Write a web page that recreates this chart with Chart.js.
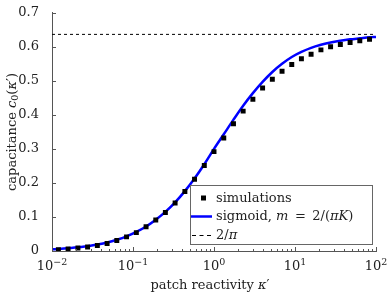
<!DOCTYPE html>
<html>
<head>
<meta charset="utf-8">
<script src="https://cdn.jsdelivr.net/npm/chart.js@4.4.0/dist/chart.umd.min.js"></script>
<style>
  html, body { margin: 0; padding: 0; background: #fff; }
  #wrap { width: 391px; height: 296px; }
</style>
</head>
<body>
<div id="wrap"><canvas id="myChart" width="391" height="296"></canvas></div>
<script>
// simulations (black squares)
var kappaSim = [0.0120, 0.0158, 0.0209, 0.0275, 0.0363, 0.0479, 0.0631, 0.0832,
  0.110, 0.145, 0.191, 0.251, 0.331, 0.437, 0.575, 0.759,
  1.00, 1.32, 1.74, 2.29, 3.02, 3.98, 5.25, 6.92,
  9.12, 12.0, 15.8, 20.9, 27.5, 36.3, 47.9, 63.1, 83.2];
var c0Sim = [0.004, 0.006, 0.0086, 0.0115, 0.0164, 0.022, 0.031, 0.0415,
  0.054, 0.0715, 0.091, 0.113, 0.141, 0.175, 0.211, 0.251,
  0.292, 0.332, 0.374, 0.411, 0.446, 0.479, 0.505, 0.528,
  0.548, 0.565, 0.578, 0.591, 0.600, 0.607, 0.613, 0.618, 0.622];

// sigmoid curve (blue)
var kappaFit = [0.01, 0.0120, 0.0158, 0.0209, 0.0275, 0.0363, 0.0479, 0.0631, 0.0832,
  0.110, 0.145, 0.191, 0.251, 0.331, 0.437, 0.575, 0.759,
  1.00, 1.32, 1.74, 2.29, 3.02, 3.98, 5.25, 6.92,
  9.12, 12.0, 15.8, 20.9, 27.5, 36.3, 47.9, 63.1, 83.2, 100];
var c0Fit = [0.005, 0.006, 0.008, 0.011, 0.014, 0.019, 0.025, 0.033, 0.043,
  0.056, 0.072, 0.092, 0.115, 0.143, 0.176, 0.213, 0.255,
  0.300, 0.343, 0.386, 0.427, 0.464, 0.497, 0.526, 0.550,
  0.570, 0.585, 0.597, 0.606, 0.613, 0.618, 0.622, 0.625, 0.628, 0.629];

// limit 2/pi (dashed)
var limitKappa = [0.01, 100];
var limitC0 = [0.6366, 0.6366];

var xTickValues = [0.01, 0.1, 1, 10, 100];
var xTickBase = '10';
var xTickExponents = ['\u22122', '\u22121', '0', '1', '2'];
var yTickValues = [0, 0.1, 0.2, 0.3, 0.4, 0.5, 0.6, 0.7];
var yTickLabels = ['0', '0.1', '0.2', '0.3', '0.4', '0.5', '0.6', '0.7'];

var FONT = "'DejaVu Serif', serif";
var AXIS = '#555';
var TEXT = '#222';

function toPoints(xs, ys) {
  return xs.map(function (x, i) { return { x: x, y: ys[i] }; });
}

// text with italic / subscript / superscript pieces
function partFont(style) {
  if (style === 'i') return 'italic 13px ' + FONT;
  if (style === 's' || style === 'u') return '9.5px ' + FONT;
  return '13px ' + FONT;
}
function richWidth(ctx, parts) {
  var w = 0;
  parts.forEach(function (p) { ctx.font = partFont(p[1]); w += ctx.measureText(p[0]).width; });
  return w;
}
function drawRich(ctx, parts, x, y) {
  parts.forEach(function (p) {
    ctx.font = partFont(p[1]);
    var dy = p[1] === 's' ? 2.5 : (p[1] === 'u' ? -5 : 0);
    ctx.fillText(p[0], x, y + dy);
    x += ctx.measureText(p[0]).width;
  });
}

var innerTicks = {
  id: 'innerTicks',
  afterDatasetsDraw: function (chart) {
    var ctx = chart.ctx, a = chart.chartArea;
    var sx = chart.scales.x, sy = chart.scales.y;
    ctx.save();
    ctx.strokeStyle = AXIS;
    ctx.lineWidth = 1;
    ctx.beginPath();
    xTickValues.forEach(function (dec) {
      for (var k = 1; k <= 9; k++) {
        var v = dec * k;
        if (v > 100.001) break;
        var px = Math.round(sx.getPixelForValue(v)) + 0.5;
        var len = k === 1 ? 4 : 2;
        ctx.moveTo(px, a.bottom);
        ctx.lineTo(px, a.bottom - len);
      }
    });
    yTickValues.forEach(function (v) {
      var py = Math.round(sy.getPixelForValue(v)) + 0.5;
      ctx.moveTo(a.left, py);
      ctx.lineTo(a.left + 4, py);
    });
    ctx.stroke();

    // x tick labels 10^n
    ctx.fillStyle = TEXT;
    ctx.textBaseline = 'alphabetic';
    xTickValues.forEach(function (v, i) {
      var parts = [[xTickBase, 'r'], [xTickExponents[i], 'u']];
      var px = sx.getPixelForValue(v);
      drawRich(ctx, parts, px - richWidth(ctx, parts) / 2, a.bottom + 18.5);
    });
    ctx.restore();
  }
};

var legendAndTitles = {
  id: 'legendAndTitles',
  afterDraw: function (chart) {
    var ctx = chart.ctx;
    var ds = chart.data.datasets;
    ctx.save();
    // legend box
    ctx.fillStyle = '#fff';
    ctx.fillRect(190.5, 185.5, 182, 59);
    ctx.strokeStyle = '#666';
    ctx.lineWidth = 1;
    ctx.strokeRect(190.5, 185.5, 182, 59);

    ctx.fillStyle = ds[0].backgroundColor;
    ctx.fillRect(201, 195.5, 5, 5);

    ctx.strokeStyle = ds[1].borderColor;
    ctx.lineWidth = ds[1].borderWidth;
    ctx.beginPath();
    ctx.moveTo(191, 216.5);
    ctx.lineTo(212, 216.5);
    ctx.stroke();

    ctx.strokeStyle = ds[2].borderColor;
    ctx.lineWidth = 1;
    ctx.setLineDash([4, 3.5]);
    ctx.beginPath();
    ctx.moveTo(192, 235.5);
    ctx.lineTo(213, 235.5);
    ctx.stroke();
    ctx.setLineDash([]);

    ctx.fillStyle = TEXT;
    ctx.textBaseline = 'alphabetic';
    drawRich(ctx, [['simulations', 'r']], 216, 201.5);
    drawRich(ctx, [['sigmoid, ', 'r'], ['m', 'i'], ['\u2002=\u20022/(', 'r'], ['πK', 'i'], [')', 'r']], 216, 220);
    drawRich(ctx, [['2/', 'r'], ['π', 'i']], 216, 239);

    // x title
    var xt = [['patch reactivity ', 'r'], ['κ', 'i'], ['′', 'r']];
    drawRich(ctx, xt, 210 - richWidth(ctx, xt) / 2, 289);

    // y title
    var yt = [['capacitance ', 'r'], ['c', 'i'], ['0', 's'], ['(', 'r'], ['κ', 'i'], ['′)', 'r']];
    ctx.translate(15.5, 132);
    ctx.rotate(-Math.PI / 2);
    drawRich(ctx, yt, -richWidth(ctx, yt) / 2, 0);
    ctx.restore();
  }
};

var ctx = document.getElementById('myChart').getContext('2d');
var myChart = new Chart(ctx, {
  type: 'scatter',
  data: {
    datasets: [{
      label: 'simulations',
      data: toPoints(kappaSim, c0Sim),
      pointStyle: 'rect',
      pointRadius: 3.5,
      pointHoverRadius: 3.5,
      backgroundColor: '#000',
      borderColor: '#000',
      borderWidth: 0,
      showLine: false
    }, {
      label: 'sigmoid, m = 2/(πK)',
      data: toPoints(kappaFit, c0Fit),
      showLine: true,
      borderColor: '#0000ff',
      borderWidth: 2.5,
      pointRadius: 0,
      cubicInterpolationMode: 'monotone',
      fill: false
    }, {
      label: '2/π',
      data: toPoints(limitKappa, limitC0),
      showLine: true,
      borderColor: '#000',
      borderWidth: 1,
      borderDash: [3, 3],
      pointRadius: 0,
      fill: false
    }]
  },
  options: {
    responsive: false,
    animation: false,
    devicePixelRatio: 1,
    layout: { padding: { left: 0, right: 15, top: 9, bottom: 0 } },
    plugins: { legend: { display: false }, tooltip: { enabled: false } },
    scales: {
      x: {
        type: 'logarithmic',
        min: 0.01,
        max: 100,
        afterBuildTicks: function (s) { s.ticks = xTickValues.map(function (v) { return { value: v }; }); },
        afterFit: function (s) { s.height = 45; },
        grid: { display: false },
        border: { color: AXIS, width: 1 },
        ticks: { display: false }
      },
      y: {
        min: 0,
        max: 0.7,
        afterBuildTicks: function (s) { s.ticks = yTickValues.map(function (v) { return { value: v }; }); },
        afterFit: function (s) { s.width = 52; },
        grid: { display: false },
        border: { color: AXIS, width: 1 },
        ticks: {
          font: { family: FONT, size: 13 },
          color: TEXT,
          padding: 5,
          autoSkip: false,
          callback: function (v, i) { return yTickLabels[i]; }
        }
      }
    }
  },
  plugins: [innerTicks, legendAndTitles]
});
</script>
</body>
</html>
